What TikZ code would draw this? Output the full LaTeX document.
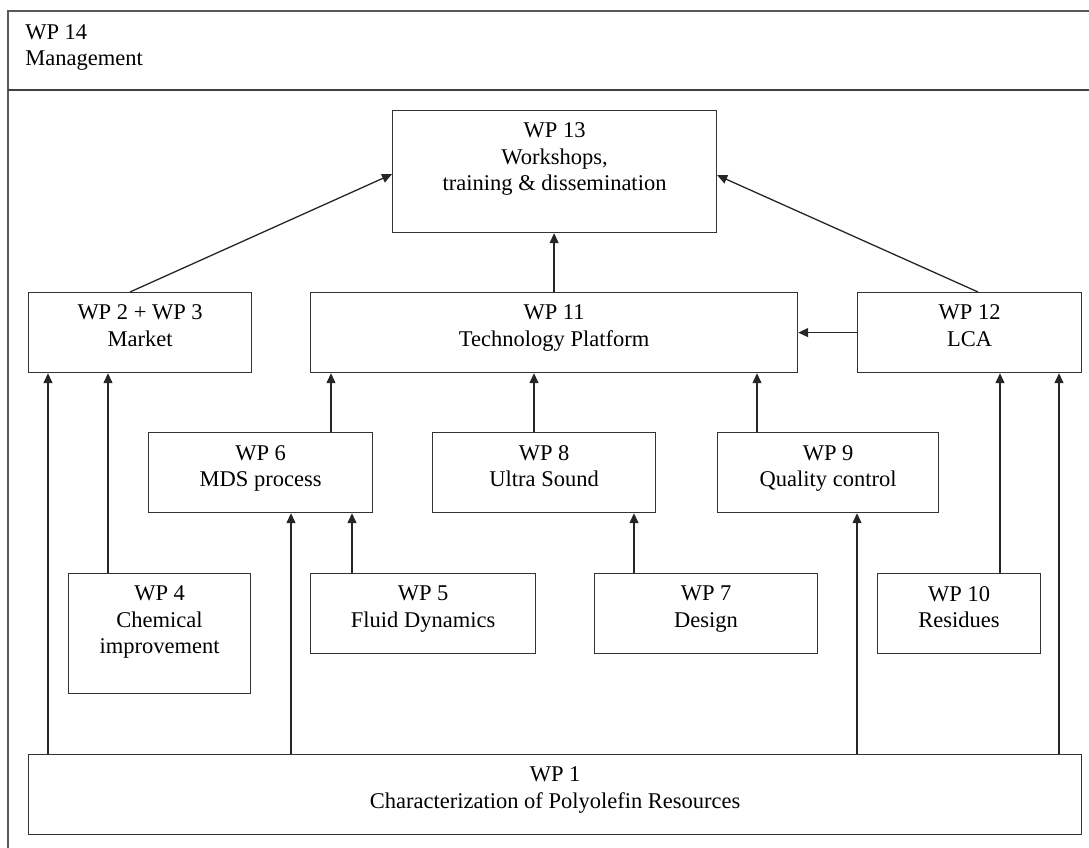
\documentclass[tikz,border=0pt]{standalone}
\usepackage{fontspec}
\setmainfont{Liberation Serif}
\usetikzlibrary{calc,arrows.meta,positioning}

\begin{document}
\begin{tikzpicture}[x=1pt,y=-1pt,>={Triangle[length=10pt,width=9pt]},semithick,
        every node/.style={font=\fontsize{22.5}{26.5}\selectfont}]
        \tikzstyle{wp}=[draw=black!80,line width=1.2pt,anchor=north west,inner sep=0pt]
        \tikzstyle{wptext}=[anchor=north,align=center,inner sep=0pt,yshift=-12.8pt]
        \tikzstyle{link}=[->,draw=black!85,line width=1.3pt]
        \useasboundingbox (0,0) rectangle (1089,848);
        % frame + management header
        \draw[black!65,line width=1.6pt] (1089,11) -- (8,11) -- (8,848);
        \draw[black!75,line width=1.4pt] (8,90) -- (1089,90);
        \node[anchor=north west,align=left,inner sep=0pt] (WPfourteen) at (25,24) {WP 14\\Management};

        \node[wp,minimum width=324pt,minimum height=122pt](WPthirteen) at (392,110){};
        \node[wp,minimum width=223pt,minimum height=80pt](WPtwothree) at (28,292){};
        \node[wp,minimum width=487pt,minimum height=80pt](WPeleven) at (310,292){};
        \node[wp,minimum width=224pt,minimum height=80pt](WPtwelve) at (857,292){};
        \node[wp,minimum width=224pt,minimum height=80pt](WPsix) at (148,432){};
        \node[wp,minimum width=223pt,minimum height=80pt](WPeight) at (432,432){};
        \node[wp,minimum width=221pt,minimum height=80pt](WPnine) at (717,432){};
        \node[wp,minimum width=182pt,minimum height=120pt](WPfour) at (68,573){};
        \node[wp,minimum width=225pt,minimum height=80pt](WPfive) at (310,573){};
        \node[wp,minimum width=223pt,minimum height=80pt](WPseven) at (594,573){};
        \node[wp,minimum width=163pt,minimum height=80pt](WPten) at (877,573){};
        \node[wp,minimum width=1053pt,minimum height=80pt](WPone) at (28,754){};

        \node[wptext](WPthirteen-t) at (WPthirteen.north){WP 13\\Workshops,\\training \& dissemination};
        \node[wptext](WPtwothree-t) at (WPtwothree.north){WP 2 + WP 3\\Market};
        \node[wptext](WPeleven-t) at (WPeleven.north){WP 11\\Technology Platform};
        \node[wptext](WPtwelve-t) at (WPtwelve.north){WP 12\\LCA};
        \node[wptext](WPsix-t) at (WPsix.north){WP 6\\MDS process};
        \node[wptext](WPeight-t) at (WPeight.north){WP 8\\Ultra Sound};
        \node[wptext](WPnine-t) at (WPnine.north){WP 9\\Quality control};
        \node[wptext](WPfour-t) at (WPfour.north){WP 4\\Chemical\\improvement};
        \node[wptext](WPfive-t) at (WPfive.north){WP 5\\Fluid Dynamics};
        \node[wptext](WPseven-t) at (WPseven.north){WP 7\\Design};
        \node[wptext](WPten-t) at (WPten.north){WP 10\\Residues};
        \node[wptext](WPone-t) at (WPone.north){WP 1\\Characterization of Polyolefin Resources};

        % up to WP 13
        \draw[link] ($(WPtwothree.north west)+(102,0)$) -- ($(WPthirteen.south west)+(0,-59)$);
        \draw[link] (WPeleven.north) -- (WPeleven.north |- WPthirteen.south);
        \draw[link] ($(WPtwelve.north west)+(121,0)$) -- ($(WPthirteen.south east)+(0,-58)$);
        \draw[link] (WPtwelve.west) -- (WPeleven.east);

        % into WP 11
        \draw[link] ($(WPsix.north west)+(183,0)$) -- ($(WPeleven.south west)+(21,0)$);
        \draw[link] ($(WPeight.north west)+(102,0)$) -- ($(WPeleven.south west)+(224,0)$);
        \draw[link] ($(WPnine.north west)+(40,0)$) -- ($(WPeleven.south west)+(447,0)$);

        % lower row
        \draw[link] ($(WPfour.north west)+(40,0)$) -- ($(WPtwothree.south west)+(80,0)$);
        \draw[link] ($(WPfive.north west)+(42,0)$) -- ($(WPsix.south west)+(204,0)$);
        \draw[link] ($(WPseven.north west)+(40,0)$) -- ($(WPeight.south west)+(202,0)$);
        \draw[link] ($(WPten.north west)+(123,0)$) -- ($(WPtwelve.south west)+(143,0)$);

        % from WP 1
        \draw[link] ($(WPone.north west)+(20,0)$) -- ($(WPtwothree.south west)+(20,0)$);
        \draw[link] ($(WPone.north west)+(263,0)$) -- ($(WPsix.south west)+(143,0)$);
        \draw[link] ($(WPone.north west)+(829,0)$) -- ($(WPnine.south west)+(140,0)$);
        \draw[link] ($(WPone.north west)+(1031,0)$) -- ($(WPtwelve.south west)+(202,0)$);
\end{tikzpicture}
\end{document}
